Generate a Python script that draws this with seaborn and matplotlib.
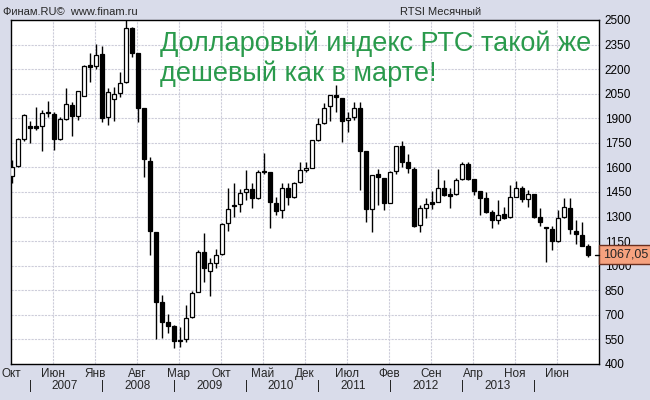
import numpy as np
import matplotlib
matplotlib.use("Agg")
import matplotlib.pyplot as plt
import matplotlib.transforms as mtransforms
import seaborn as sns

# ----- данные (месячные свечи RTSI, окт 2006 - окт 2014) -----
opens = [1550, 1611, 1774, 1850, 1848, 1855, 1930, 1926, 1774, 1896, 1981, 1916,
         2038, 2219, 2219, 2292, 1910, 2016, 2052, 2119, 2453, 2297, 1961, 1639,
         1208, 776, 654, 632, 546, 550, 687, 837, 1082, 970, 1018, 1069,
         1259, 1370, 1375, 1452, 1468, 1411, 1574, 1574, 1381, 1340, 1472, 1421,
         1513, 1584, 1599, 1767, 1869, 1975, 2042, 2026, 1887, 1906, 1961, 1700,
         1344, 1558, 1533, 1381, 1578, 1731, 1635, 1590, 1248, 1350, 1384, 1387,
         1472, 1432, 1436, 1529, 1619, 1527, 1456, 1411, 1330, 1279, 1314, 1295,
         1421, 1472, 1407, 1436, 1299, 1236, 1222, 1151, 1299, 1354, 1212, 1187,
         1122]
highs = [1645, 1780, 1926, 1883, 1971, 1951, 2005, 1940, 1910, 2083, 1997, 2067,
         2225, 2297, 2351, 2343, 2083, 2093, 2180, 2498, 2460, 2297, 1961, 1666,
         1208, 821, 703, 638, 628, 760, 846, 1096, 1198, 1045, 1102, 1259,
         1476, 1503, 1466, 1584, 1503, 1584, 1686, 1574, 1421, 1503, 1503, 1510,
         1635, 1635, 1767, 1900, 1991, 2042, 2103, 2026, 1940, 1997, 1999, 1700,
         1554, 1590, 1533, 1578, 1731, 1761, 1680, 1605, 1371, 1415, 1456, 1590,
         1523, 1472, 1533, 1635, 1635, 1527, 1456, 1452, 1340, 1401, 1360, 1493,
         1519, 1489, 1462, 1436, 1354, 1236, 1244, 1340, 1415, 1411, 1279, 1265,
         1130]
lows = [1503, 1605, 1761, 1747, 1828, 1700, 1910, 1706, 1767, 1890, 1794, 1890,
        2038, 2124, 2199, 1879, 1859, 1883, 2032, 2115, 2276, 1879, 1544, 1065,
        552, 557, 587, 496, 506, 536, 679, 837, 902, 817, 988, 1065,
        1212, 1295, 1326, 1401, 1354, 1407, 1558, 1228, 1310, 1289, 1370, 1415,
        1503, 1574, 1594, 1761, 1863, 1883, 1940, 1757, 1818, 1890, 1462, 1269,
        1204, 1370, 1340, 1381, 1558, 1605, 1564, 1238, 1204, 1293, 1346, 1387,
        1428, 1354, 1432, 1523, 1523, 1432, 1310, 1320, 1228, 1253, 1285, 1293,
        1417, 1391, 1360, 1293, 1244, 1021, 1096, 1147, 1293, 1194, 1130, 1122,
        1055]
closes = [1605, 1774, 1920, 1843, 1843, 1930, 1935, 1774, 1894, 1985, 1916, 2067,
          2219, 2215, 2286, 1904, 2058, 2046, 2113, 2449, 2301, 1965, 1649, 1212,
          776, 658, 634, 540, 540, 683, 831, 1086, 988, 1014, 1065, 1253,
          1344, 1362, 1442, 1468, 1411, 1574, 1572, 1387, 1336, 1472, 1421, 1503,
          1584, 1594, 1767, 1865, 1961, 2042, 2032, 1885, 1900, 1961, 1702, 1344,
          1554, 1540, 1381, 1574, 1731, 1635, 1594, 1244, 1350, 1374, 1377, 1472,
          1432, 1428, 1523, 1619, 1529, 1458, 1411, 1330, 1279, 1310, 1293, 1419,
          1472, 1405, 1436, 1299, 1269, 1230, 1151, 1289, 1360, 1222, 1191, 1122,
          1067.05]

month_labels = ["Окт", "Июн", "Янв", "Авг", "Мар", "Окт", "Май", "Дек",
                "Июл", "Фев", "Сен", "Апр", "Ноя", "Июн"]
year_labels = ["2007", "2008", "2009", "2010", "2011", "2012", "2013"]
y_ticks = list(range(400, 2501, 150))
last_price = 1067.05
title_lines = ["Долларовый индекс РТС такой же", "дешевый как в марте!"]

# ----- оформление -----
sns.set_theme(style="white")
plt.rcParams['font.family'] = ['Liberation Sans', 'DejaVu Sans']

bg = '#d9dcea'
fig = plt.figure(figsize=(6.5, 4), dpi=100, facecolor=bg)
ax = fig.add_axes([11/650, 1 - 364/400, 588/650, 344/400])
ax.set_facecolor('white')

n = len(opens)
x = np.arange(n)
o = np.array(opens, dtype=float)
c = np.array(closes, dtype=float)
h = np.array(highs, dtype=float)
l = np.array(lows, dtype=float)

# фитили
ax.vlines(x, l, h, color='black', linewidth=1, zorder=3)

# тела свечей
up = c >= o
bottom = np.minimum(o, c)
height = np.maximum(np.abs(c - o), 9)
ax.bar(x[up], height[up], bottom=bottom[up], width=0.72, color='white',
       edgecolor='black', linewidth=0.9, zorder=4)
ax.bar(x[~up], height[~up], bottom=bottom[~up], width=0.72, color='black',
       edgecolor='black', linewidth=0.9, zorder=4)

# оси
x0 = -0.22
ax.set_xlim(x0, x0 + 588/6)
ax.set_ylim(400, 2500)
grid_x = [x0 + 7*k for k in range(len(month_labels))]
ax.set_xticks(grid_x[1:])
ax.set_xticklabels([])
ax.set_yticks(y_ticks)
ax.yaxis.tick_right()
ax.tick_params(axis='y', length=0, pad=4, labelsize=8.5, colors='black')
ax.tick_params(axis='x', length=0)
ax.grid(True, color='#cdcdda', linestyle=(0, (2, 1)), linewidth=0.8)
for s in ax.spines.values():
    s.set_color('black')
    s.set_linewidth(1)

# подписи месяцев и лет
trans = mtransforms.blended_transform_factory(ax.transData, fig.transFigure)
for gx, lab in zip(grid_x, month_labels):
    ax.text(gx, 1 - 374/400, lab, transform=trans, ha='center', va='center',
            fontsize=8.5, clip_on=False)
year_marks = [3.1 + 12*k for k in range(len(year_labels) + 1)]
for ym in year_marks:
    ax.text(ym, 1 - 386/400, "|", transform=trans, ha='center', va='center',
            fontsize=8.5, clip_on=False)
for k, lab in enumerate(year_labels):
    ax.text(year_marks[k] + 5.7, 1 - 386/400, lab, transform=trans,
            ha='center', va='center', fontsize=8.5, clip_on=False)

# метка последней цены
ax.plot([x0 + 588/6 - 0.7, x0 + 588/6], [last_price, last_price],
        color='black', linewidth=1, clip_on=False, zorder=5)
ax.annotate("1067,05", xy=(1.0, last_price), xycoords=('axes fraction', 'data'),
            xytext=(3, 0), textcoords='offset points', ha='left', va='center',
            fontsize=9,
            bbox=dict(boxstyle='square,pad=0.3', facecolor='#f6a27f',
                      edgecolor='#6b3020', linewidth=1))

# заголовки
fig.text(3/650, 1 - 12/400, "Финам.RU©  www.finam.ru", ha='left', va='center',
         fontsize=8)
fig.text(400/650, 1 - 12/400, "RTSI Месячный", ha='left', va='center',
         fontsize=8)
for yy, line in zip([44, 74], title_lines):
    fig.text(160/650, 1 - yy/400, line, ha='left', va='center', fontsize=19.5,
             color='#2a9a4c')

fig.savefig('out.png', dpi=100, facecolor=bg)
